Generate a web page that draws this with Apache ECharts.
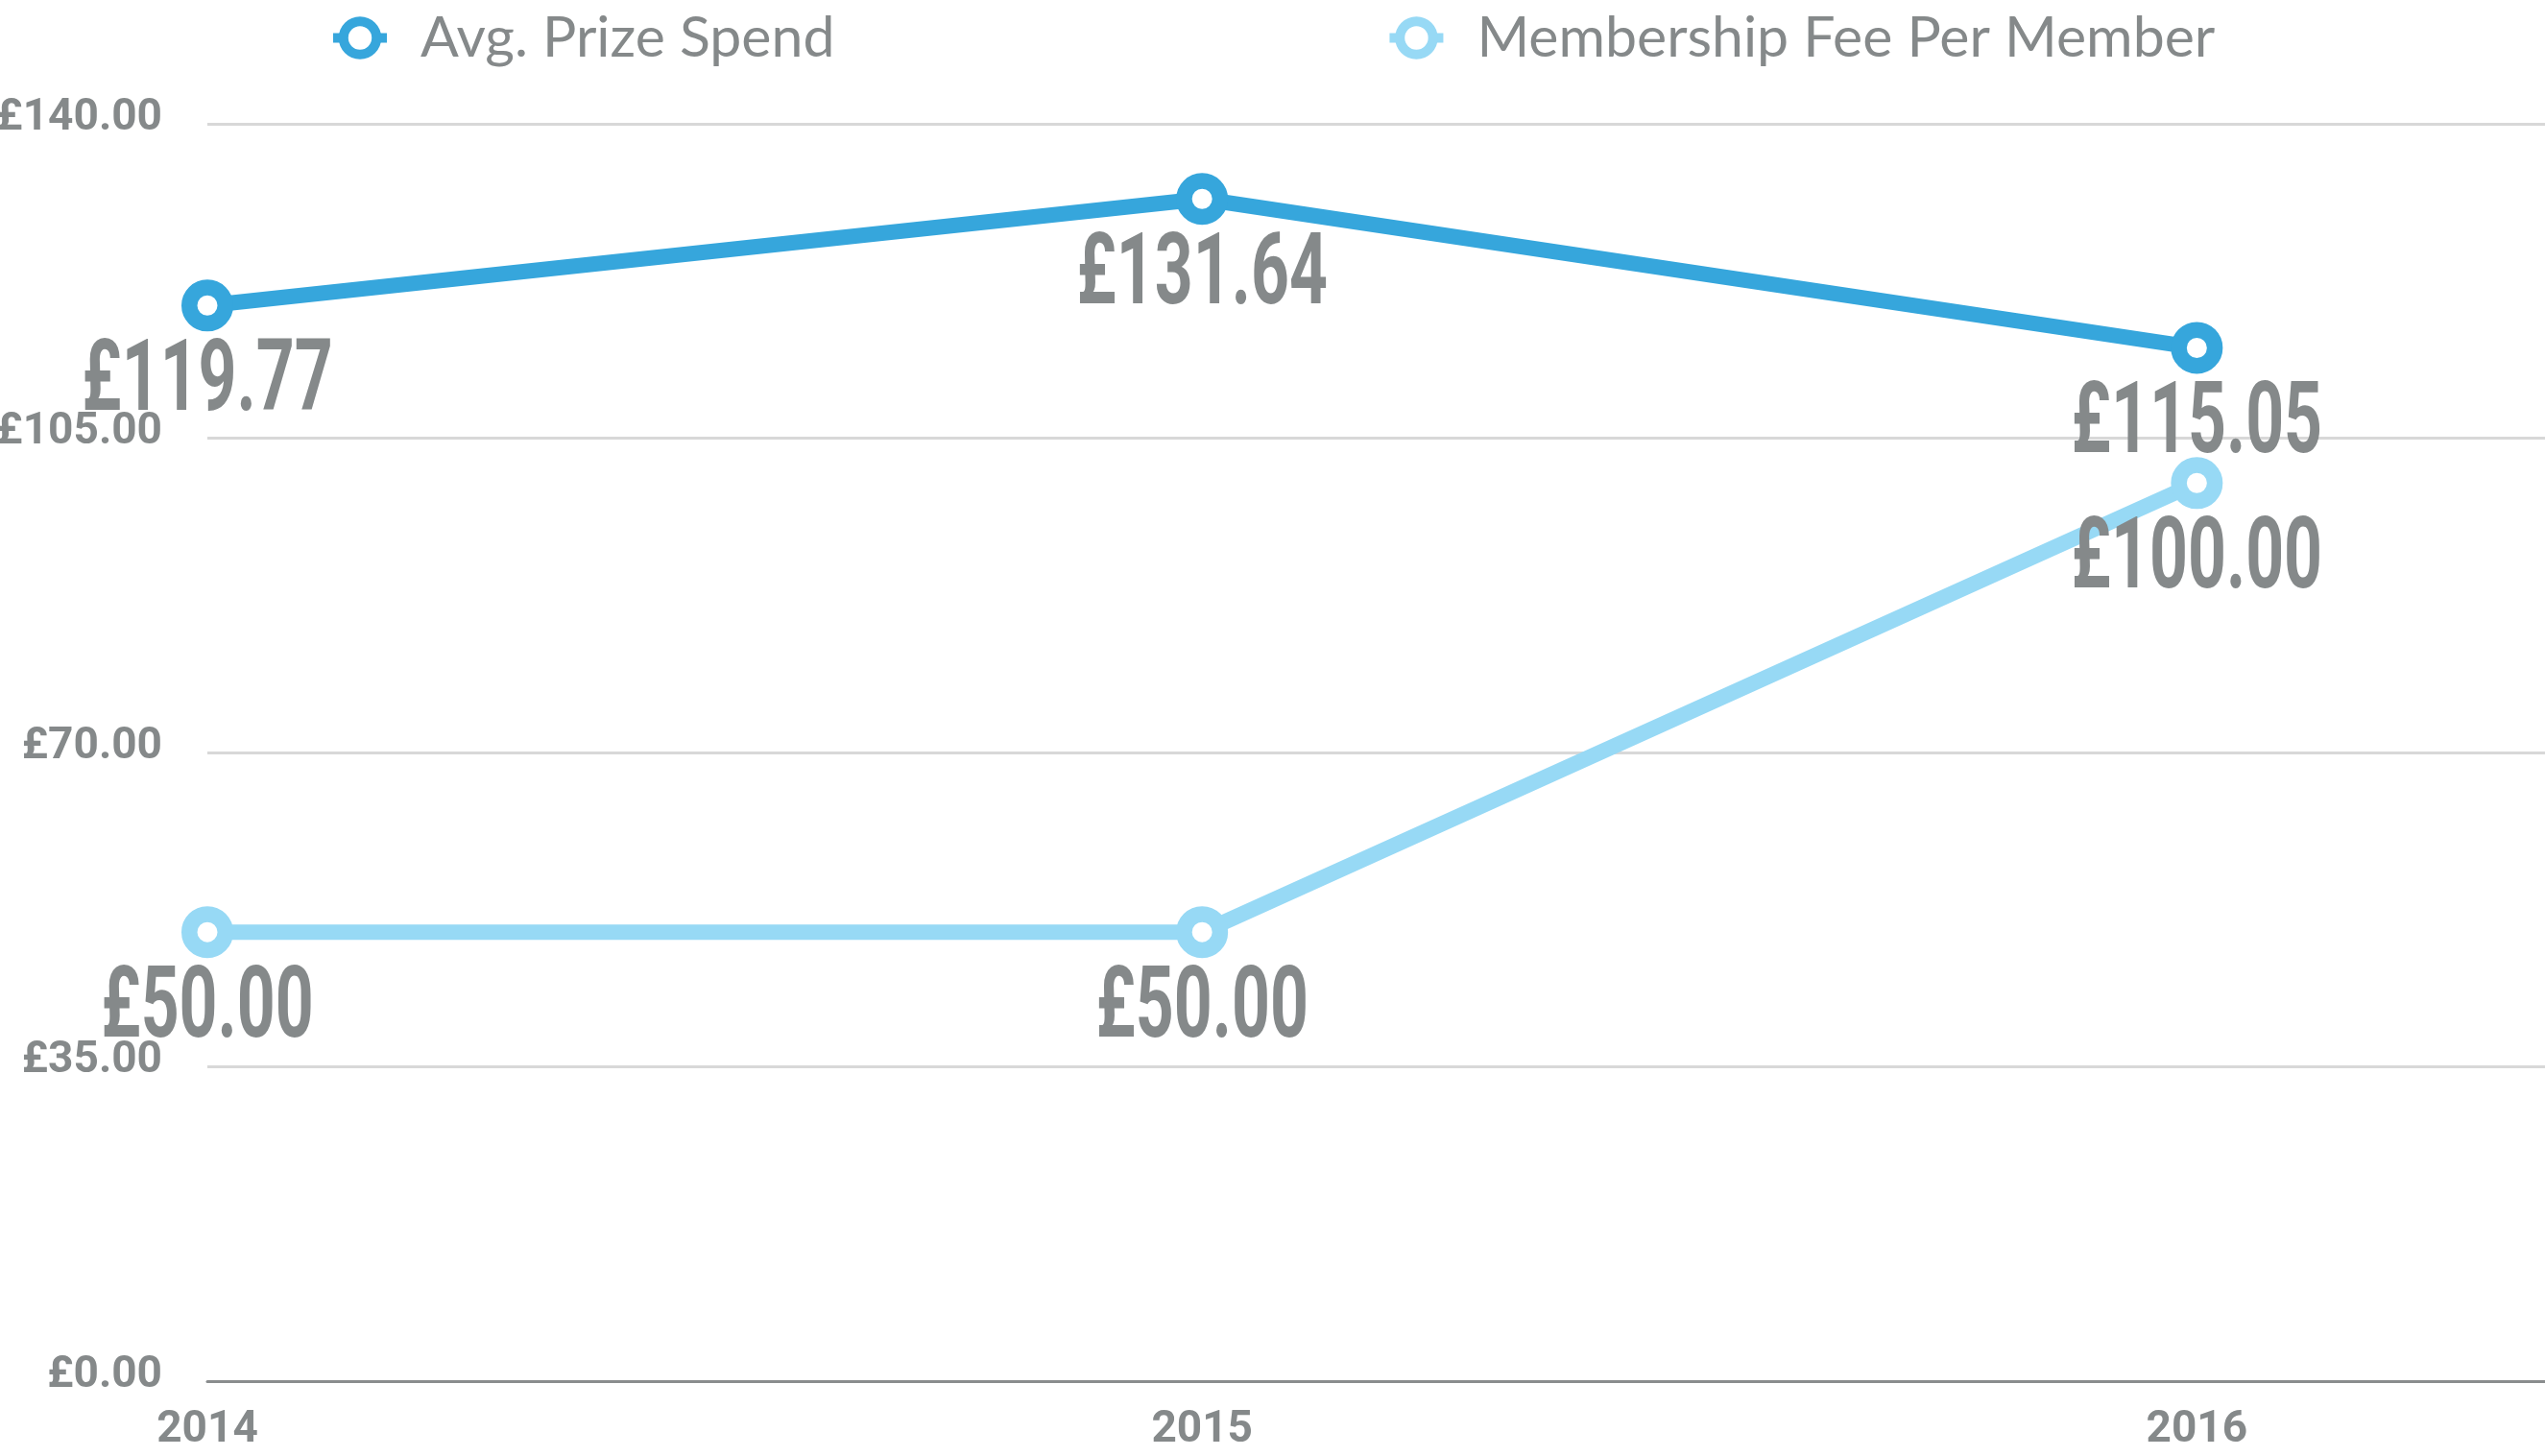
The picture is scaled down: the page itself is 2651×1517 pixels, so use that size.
<!DOCTYPE html>
<html>
<head>
<meta charset="utf-8">
<title>Prize Spend vs Membership Fee</title>
<script src="https://cdn.jsdelivr.net/npm/echarts@6/dist/echarts.min.js"></script>
<style>
    html, body { margin: 0; padding: 0; background: #fff; }
    #report { width: 2651px; height: 1517px; }
</style>
</head>
<body>
<div id="report"></div>
<script>
// 年份 / 数据
var years = [2014, 2015, 2016];
var prizeSpend = [119.77, 131.64, 115.05];
var membershipFee = [50.00, 50.00, 100.00];
var seriesNames = ['Avg. Prize Spend', 'Membership Fee Per Member'];
var yTicks = [0, 35, 70, 105, 140];

var GREY = '#85898a';
var NUM_FONT = 'Roboto';

function toPairs(values) {
    var out = [];
    for (var i = 0; i < years.length; i++) {
        out.push([years[i], values[i]]);
    }
    return out;
}

function money(v) {
    return '£' + Number(v).toFixed(2);
}

function makeLine(name, values, color) {
    return {
        name: name,
        type: 'line',
        data: toPairs(values),
        symbol: 'circle',
        symbolSize: 37.5,
        lineStyle: { color: color, width: 16 },
        itemStyle: { color: '#fff', borderColor: color, borderWidth: 16.5 },
        emphasis: { disabled: true },
        z: 3
    };
}

// 数值标签: 用 custom 系列画, 以便横向压缩成窄字体的样子
function makeLabels(values) {
    return {
        type: 'custom',
        coordinateSystem: 'cartesian2d',
        data: toPairs(values),
        clip: false,
        silent: true,
        z: 5,
        renderItem: function (params, api) {
            var pt = api.coord([api.value(0), api.value(1)]);
            return {
                type: 'text',
                x: pt[0],
                y: pt[1] + 31,
                scaleX: 0.67,
                style: {
                    text: money(api.value(1)),
                    fill: GREY,
                    font: 'bold 104px ' + NUM_FONT,
                    align: 'center',
                    verticalAlign: 'top'
                }
            };
        }
    };
}

var myChart = echarts.init(document.getElementById('report'));
var option = {
    animation: false,
    backgroundColor: '#fff',
    legend: {
        left: 342,
        top: 10,
        padding: 0,
        itemWidth: 56,
        itemHeight: 43,
        itemGap: 573,
        data: seriesNames,
        lineStyle: { width: 10 },
        itemStyle: { borderWidth: 10 },
        textStyle: {
            color: GREY,
            fontFamily: 'Lato',
            fontSize: 59,
            padding: [0, 0, 0, 30]
        }
    },
    grid: {
        left: 216,
        right: 0,
        top: 129,
        bottom: 78,
        containLabel: false,
        outerBoundsMode: 'none'
    },
    xAxis: {
        type: 'value',
        min: 2014,
        max: 2016.35,
        interval: 1,
        splitLine: { show: false },
        axisTick: { show: false },
        axisLine: { show: true, onZero: false, lineStyle: { color: '#8a8d8e', width: 3 } },
        axisLabel: {
            color: GREY,
            fontFamily: NUM_FONT,
            fontWeight: 'bold',
            fontSize: 46,
            margin: 28,
            showMaxLabel: false,
            formatter: function (v) {
                return years.indexOf(v) > -1 ? String(v) : '';
            }
        }
    },
    yAxis: {
        type: 'value',
        min: yTicks[0],
        max: yTicks[yTicks.length - 1],
        interval: 35,
        axisLine: { show: false },
        axisTick: { show: false },
        splitLine: { lineStyle: { color: '#d8d8d8', width: 3 } },
        axisLabel: {
            color: GREY,
            fontFamily: NUM_FONT,
            fontWeight: 'bold',
            fontSize: 46,
            margin: 47,
            verticalAlign: 'bottom',
            lineHeight: 44,
            padding: [0, 0, -16, 0],
            formatter: function (v) { return money(v); }
        }
    },
    series: [
        makeLine(seriesNames[0], prizeSpend, '#36a6dc'),
        makeLine(seriesNames[1], membershipFee, '#97d9f5'),
        makeLabels(prizeSpend),
        makeLabels(membershipFee)
    ]
};
myChart.setOption(option);
</script>
</body>
</html>
